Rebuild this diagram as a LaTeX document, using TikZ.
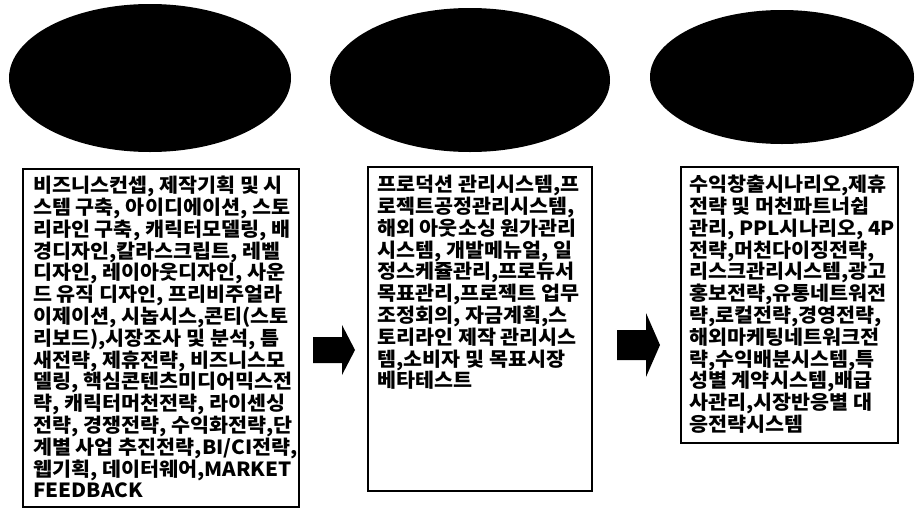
\documentclass[tikz,border=0pt]{standalone}
\usepackage{fontspec}
\setmainfont{Noto Sans CJK KR}[FakeStretch=1.06]
\usetikzlibrary{shapes.geometric}
\tikzset{
  blob/.style={ellipse, fill=black, draw=none, inner sep=0pt},
  infobox/.style={rectangle, draw=black, line width=2pt, fill=white, inner sep=0pt, anchor=north west},
  infotext/.style={anchor=north west, align=left, inner sep=0pt, font=\fontsize{19.5}{21.8}\selectfont\bfseries},
  blockarrow/.style={fill=black, draw=none}
}
\begin{document}
\begin{tikzpicture}[x=1pt,y=-1pt]
\useasboundingbox (0,0) rectangle (915,509);
% ellipses
\node[blob, minimum width=282pt, minimum height=148pt] (e1) at (150,78) {};
\node[blob, minimum width=280pt, minimum height=144pt] (e2) at (470,80) {};
\node[blob, minimum width=264pt, minimum height=134pt] (e3) at (782,77) {};
% boxes
\node[infobox, minimum width=276pt, minimum height=338pt] (b1) at (22,168) {};
\node[infobox, minimum width=224pt, minimum height=324pt] (b2) at (367,166) {};
\node[infobox, minimum width=217pt, minimum height=276pt] (b3) at (680,166) {};
% texts
\node[infotext] (t1) at ([xshift=11pt,yshift=-8pt]b1.north west) {비즈니스컨셉, 제작기획 및 시\\스템 구축, 아이디에이션, 스토\\리라인 구축, 캐릭터모델링, 배\\경디자인,칼라스크립트, 레벨\\디자인, 레이아웃디자인, 사운\\드 유직 디자인, 프리비주얼라\\이제이션, 시놉시스,콘티(스토\\리보드),시장조사 및 분석, 틈\\새전략, 제휴전략, 비즈니스모\\델링, 핵심콘텐츠미디어믹스전\\략, 캐릭터머천전략, 라이센싱\\전략, 경쟁전략, 수익화전략,단\\계별 사업 추진전략,BI/CI전략,\\웹기획, 데이터웨어,MARKET\\FEEDBACK};
\node[infotext] (t2) at ([xshift=10pt,yshift=-9pt]b2.north west) {프로덕션 관리시스템,프\\로젝트공정관리시스템,\\해외 아웃소싱 원가관리\\시스템, 개발메뉴얼, 일\\정스케쥴관리,프로듀서\\목표관리,프로젝트 업무\\조정회의, 자금계획,스\\토리라인 제작 관리시스\\템,소비자 및 목표시장\\베타테스트};
\node[infotext] (t3) at ([xshift=9pt,yshift=-9pt]b3.north west) {수익창출시나리오,제휴\\전략 및 머천파트너쉽\\관리, PPL시나리오, 4P\\전략,머천다이징전략,\\리스크관리시스템,광고\\홍보전략,유통네트워전\\략,로컬전략,경영전략,\\해외마케팅네트워크전\\략,수익배분시스템,특\\성별 계약시스템,배급\\사관리,시장반응별 대\\응전략시스템};
% block arrows between boxes
\coordinate (a1) at (313,350);
\fill[blockarrow] (a1) ++(0,-13) -- ++(29,0) -- ++(0,-12) -- ++(13,25) -- ++(-13,25) -- ++(0,-12) -- ++(-29,0) -- cycle;
\coordinate (a2) at (617,345);
\fill[blockarrow] (a2) ++(0,-15) -- ++(29,0) -- ++(0,-17) -- ++(14,32) -- ++(-14,32) -- ++(0,-17) -- ++(-29,0) -- cycle;
\end{tikzpicture}
\end{document}
